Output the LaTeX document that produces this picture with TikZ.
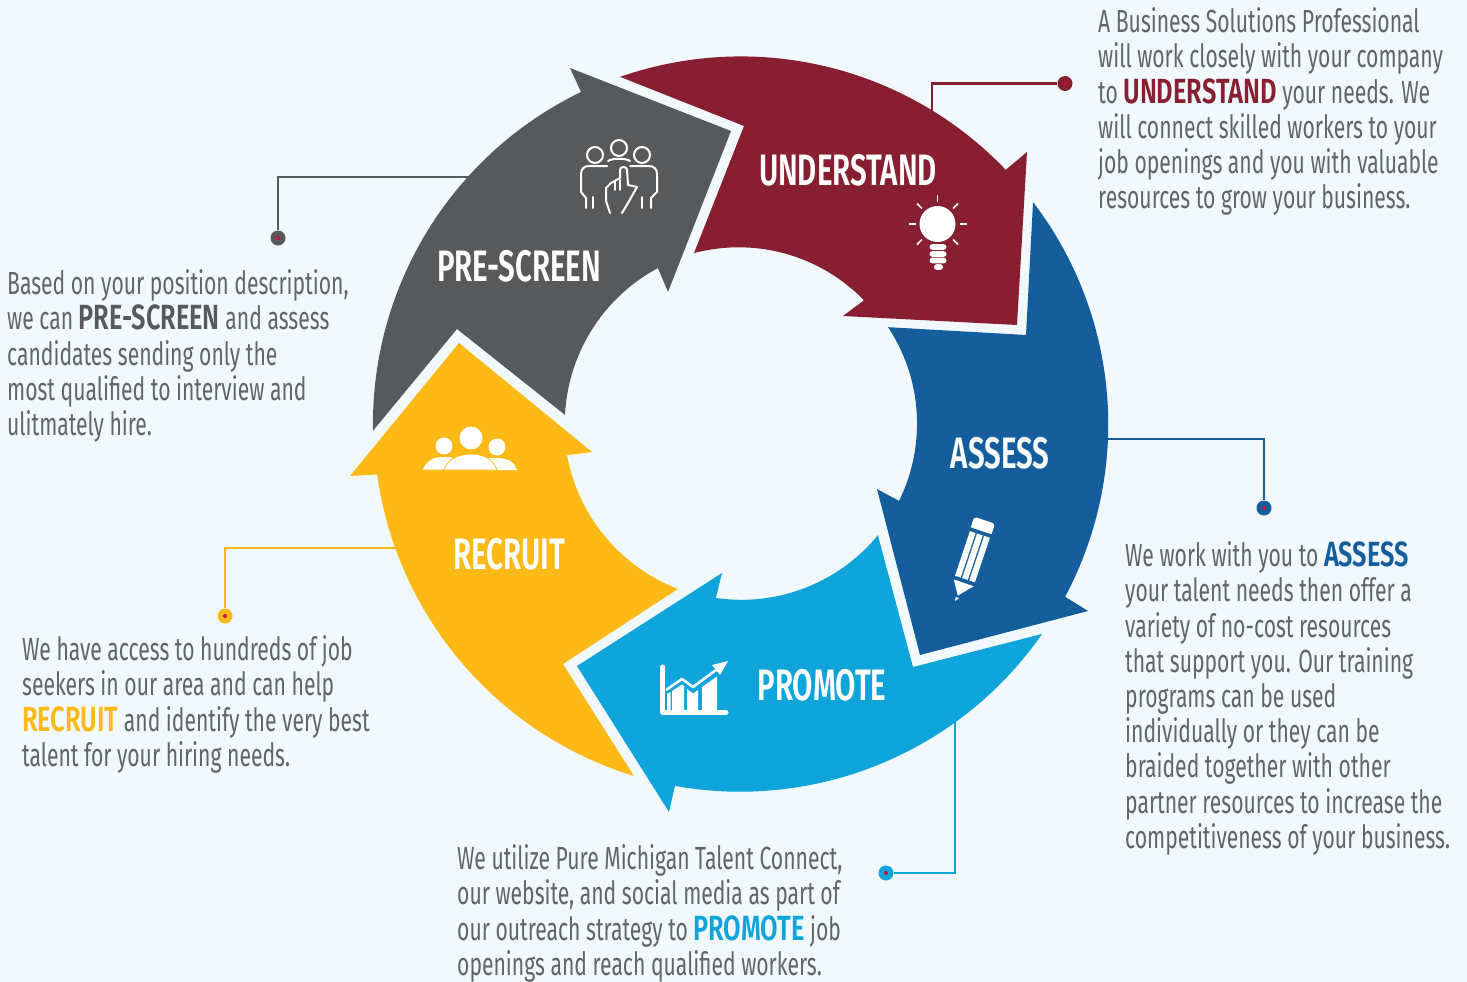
\documentclass[tikz,border=0pt]{standalone}
\usepackage{fontspec}
\setmainfont{Fira Sans}[FakeStretch=0.66]
\newfontfamily\labelfont{Fira Sans SemiBold}[FakeStretch=0.67]
\newfontfamily\hlfont{Fira Sans SemiBold}[FakeStretch=0.725]
\definecolor{bg}{HTML}{F1F9FD}
\definecolor{cRed}{HTML}{871F31}
\definecolor{cGrey}{HTML}{58595B}
\definecolor{cBody}{HTML}{636466}
\definecolor{cBlue}{HTML}{145E9E}
\definecolor{cSky}{HTML}{0FA5DB}
\definecolor{cYel}{HTML}{FDB916}
\definecolor{cCore}{HTML}{D0103A}
\newcommand{\ringarc}[4]{plot[domain=0:1,samples=90] ({742+(#2+(#4-#2)*\x)*cos(#1+(#3-#1)*\x)},{423+(#2+(#4-#2)*\x)*sin(#1+(#3-#1)*\x)})}
\newcommand{\ringto}[4]{-- plot[domain=0:1,samples=90] ({742+(#2+(#4-#2)*\x)*cos(#1+(#3-#1)*\x)},{423+(#2+(#4-#2)*\x)*sin(#1+(#3-#1)*\x)})}
\newcommand{\firstline}{\rule{0pt}{30pt}}
\newcommand{\hl}[2]{{\hlfont\fontsize{35}{35.2}\selectfont\textcolor{#1}{#2}}}
\tikzset{
  body/.style={anchor=north west,inner sep=0pt,align=left,text=cBody,font=\fontsize{32}{35.2}\selectfont},
  ringlabel/.style={text=white,inner sep=0pt,font=\labelfont\fontsize{44}{44}\selectfont},
  leader/.style={line width=2.4pt},
  dot/.style={circle,fill=#1,inner sep=0pt,minimum size=15pt},
  core/.style={circle,fill=cCore,inner sep=0pt,minimum size=4pt},
  iconline/.style={draw=white,line width=2pt,line cap=round,line join=round,fill=none},
}
\begin{document}
\begin{tikzpicture}[x=1pt,y=-1pt]
\fill[bg] (0,0) rectangle (1467,982);
\useasboundingbox (0,0) rectangle (1467,982);

% leaders
\coordinate (sU) at (932,112);
\coordinate (sP) at (470,177);
\coordinate (sA) at (1093,439);
\coordinate (sR) at (396,548);
\coordinate (sM) at (955,722);
\node[dot=cRed] (dU) at (1065,83.5) {};
\node[dot=cGrey] (dP) at (278,238) {};
\node[dot=cBlue] (dA) at (1264,508) {};
\node[dot=cYel] (dR) at (225,616) {};
\node[dot=cSky] (dM) at (886,873) {};
\node[core] at (dU) {};\node[core] at (dP) {};\node[core] at (dA) {};\node[core] at (dR) {};\node[core] at (dM) {};
\draw[leader,cRed] (sU) |- (dU);
\draw[leader,cGrey] (sP) -| (dP);
\draw[leader,cBlue] (sA) -| (dA);
\draw[leader,cYel] (sR) -| (dR);
\draw[leader,cSky] (sM) |- (dM);

% ring
\fill[cRed] \ringarc{-109.4}{367}{-43.8}{365.6} -- (1027,152) -- (1017,325) -- (843,316) \ringto{-45.2}{173}{-105.8}{176.6} -- (744,126) -- cycle;
\fill[cBlue] \ringarc{-37.2}{365.4}{28.3}{366.9} -- (1088,611) -- (920,655) -- (877,489) \ringto{26.4}{175.3}{-33.3}{174.7} -- (1026,335) -- cycle;
\fill[cSky] \ringarc{35.1}{366.8}{100.5}{369.1} -- (669,812) -- (577,666) -- (722,573) \ringto{98.5}{176.9}{39.5}{176.2} -- (913,667) -- cycle;
\fill[cYel] \ringarc{107}{369.2}{172}{368.5} -- (350,476) -- (459,343) -- (592,452) \ringto{169.6}{177.9}{111.1}{177.9} -- (563,664) -- cycle;
\fill[cGrey] \ringarc{178.8}{369.1}{244.1}{368.1} -- (570,68) -- (731,131) -- (668,292) \ringto{241.5}{176.3}{182.6}{177.2} -- (457,329) -- cycle;

% ring labels
\node[ringlabel] (lU) at (848,170) {UNDERSTAND};
\node[ringlabel] (lP) at (519,266) {PRE-SCREEN};
\node[ringlabel] (lA) at (1000,453) {ASSESS};
\node[ringlabel] (lR) at (509,554) {RECRUIT};
\node[ringlabel] (lM) at (822,685) {PROMOTE};

% bulb
\fill[white] (937.5,224) circle (18);
\foreach \a in {-90,-45,0,45,135,180,225}{
  \draw[white,line width=1.6pt] ({937.5+22*cos(\a)},{224+22*sin(\a)}) -- ({937.5+29*cos(\a)},{224+29*sin(\a)});
}
\foreach \yy in {247,254,260.5}{\fill[white,rounded corners=2.7pt] (929.5,\yy-2.8) rectangle (946.5,\yy+2.8);}
\fill[white,rounded corners=2.7pt] (934,264.2) rectangle (943,269.8);

% pencil
\begin{scope}[shift={(971,561)},rotate=-18.5]
\fill[white,rounded corners=3pt] (-11,-32) -- (-11,-43) -- (11,-43) -- (11,-32) -- cycle;
\fill[white] (-11,-32) rectangle (11,-34);
\fill[white] (-10.5,-28) rectangle (-4.5,19);
\fill[white] (-3,-28) rectangle (3,19);
\fill[white] (4.5,-28) rectangle (10.5,19);
\fill[white] (-10.5,23) -- (10.5,23) -- (-1.5,37) -- cycle;
\fill[white] (-3,39) -- (0.5,39) -- (-2.5,43) -- cycle;
\end{scope}

% chart
\draw[white,line width=5pt,line cap=round,line join=round] (662.5,667) -- (662.5,712.5) -- (726,712.5);
\fill[white] (667,694) -- (670.5,692) -- (670.5,711) -- (667,711) -- cycle;
\fill[white] (672,691) -- (682,684.5) -- (684,686) -- (684,711) -- (672,711) -- cycle;
\fill[white] (687,689) -- (693,693.5) -- (698,690) -- (698,711) -- (687,711) -- cycle;
\fill[white] (702,687) -- (717,676.5) -- (717,711) -- (702,711) -- cycle;
\draw[white,line width=2.6pt,line join=round] (666,690) -- (682,679) -- (693,687) -- (716,670);
\fill[white] (728,661) -- (712,665) -- (720,675) -- cycle;

% group icon
\fill[white] (471,438) circle (11.5);
\fill[white] (444,446) circle (8.5);
\fill[white] (497,447) circle (8.5);
\fill[white] (423,469.5) .. controls (426,461) and (434,457) .. (441,457) -- (452,457) -- (452,469.5) -- cycle;
\fill[white] (517,470) .. controls (514,461) and (506,458) .. (499,458) -- (488,458) -- (488,470) -- cycle;
\filldraw[fill=white,draw=cYel,line width=0.7pt] (444,470) .. controls (447,460) and (458,454) .. (471,454) .. controls (484,454) and (494,460) .. (497,470) -- cycle;

% people icon
\draw[iconline] (595,155) circle (8);
\draw[iconline] (619,148) circle (8);
\draw[iconline] (642,155) circle (8);
\draw[iconline] (607,166) -- (589,166) .. controls (584,166) and (581,169) .. (581,174) -- (581,192) -- (586,198) -- (586,208);
\draw[iconline] (593,197) -- (593,208);
\draw[iconline] (630,166) -- (649,166) .. controls (654,166) and (657,169) .. (657,174) -- (657,192) -- (651,198) -- (651,208);
\draw[iconline] (642,197) -- (642,208);
\draw[iconline] (608,161) .. controls (612,158) and (626,158) .. (630,161);
\draw[iconline] (610,213) -- (606,201) -- (606,188) -- (611,183) -- (620,178) -- (620,170) .. controls (620,166) and (627,166) .. (627,170) -- (628,185) -- (637,187) -- (628,203) -- (622,213);
\draw[iconline,line width=1.6pt] (615,181) -- (615,190);
\draw[iconline,line width=1.6pt] (620,180) -- (620,190);

% texts
\node[body] (tU) at (1098,2.5) {\firstline A Business Solutions Professional\\will work closely with your company\\to \hl{cRed}{UNDERSTAND} your needs. We\\will connect skilled workers to your\\job openings and you with valuable\\resources to grow your business.};
\node[body] (tP) at (7,264.5) {\firstline Based on your position description,\\we can \hl{cGrey}{PRE-SCREEN} and assess\\candidates sending only the\\most qualified to interview and\\ulitmately hire.};
\node[body] (tA) at (1125,536.5) {\firstline We work with you to \hl{cBlue}{ASSESS}\\your talent needs then offer a\\variety of no-cost resources\\that support you. Our training\\programs can be used\\individually or they can be\\braided together with other\\partner resources to increase the\\competitiveness of your business.};
\node[body] (tR) at (22,630.5) {\firstline We have access to hundreds of job\\seekers in our area and can help\\\hl{cYel}{RECRUIT} and identify the very best\\talent for your hiring needs.};
\node[body] (tM) at (457,839.5) {\firstline We utilize Pure Michigan Talent Connect,\\our website, and social media as part of\\our outreach strategy to \hl{cSky}{PROMOTE} job\\openings and reach qualified workers.};
\end{tikzpicture}
\end{document}
